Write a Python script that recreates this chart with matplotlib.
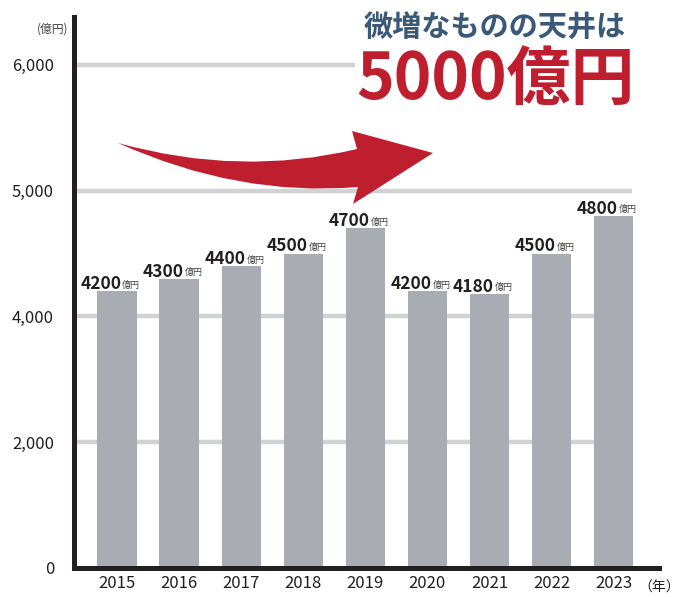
import numpy as np
import matplotlib.pyplot as plt
from matplotlib.path import Path
from matplotlib.patches import PathPatch

years = ['2015', '2016', '2017', '2018', '2019', '2020', '2021', '2022', '2023']
sales = [4200, 4300, 4400, 4500, 4700, 4200, 4180, 4500, 4800]
yticks = [0, 2000, 4000, 5000, 6000]
ytick_labels = ['0', '2,000', '4,000', '5,000', '6,000']

JP = ['Noto Sans CJK JP', 'DejaVu Sans']

# the axis is not linear: every tick gets the same spacing
knots = [0, 2000, 4000, 5000, 6000, 7000]
steps = [0, 1, 2, 3, 4, 5]


def forward(v):
    return np.interp(v, knots, steps)


def inverse(v):
    return np.interp(v, steps, knots)


W, H = 689, 597
fig = plt.figure(figsize=(W / 100, H / 100), dpi=100)
ax = fig.add_axes([73.5 / W, 1 - 568 / H, (659 - 73.5) / W, (568 - 17) / H])
ax.set_yscale('function', functions=(forward, inverse))

x = np.arange(len(years))
ax.set_xlim(-0.70, 8.73)
ax.set_ylim(0, 6380)

ax.hlines(yticks[1:], -0.70, 8.3, color='#d1d2d4', lw=3.2, zorder=1)
ax.bar(x, sales, width=0.63, color='#a9acb3', zorder=2)

for xi, v in zip(x, sales):
    ax.annotate(str(v), (xi, v), xytext=(3, 1.5), textcoords='offset points',
                ha='right', va='baseline', fontsize=12.5, fontweight='bold',
                family=JP, color='#231f20', zorder=3)
    ax.annotate('億円', (xi, v), xytext=(3.8, 2.5), textcoords='offset points',
                ha='left', va='baseline', fontsize=6.5, family=JP,
                color='#444444', zorder=3)

for s in ['top', 'right']:
    ax.spines[s].set_visible(False)
for s in ['left', 'bottom']:
    ax.spines[s].set_linewidth(3.6)
    ax.spines[s].set_color('#231f20')
    ax.spines[s].set_zorder(4)

ax.set_yticks(yticks)
ax.set_yticklabels(ytick_labels, family=JP, fontsize=12, color='#231f20')
ax.yaxis.set_minor_locator(plt.NullLocator())
ax.set_xticks(x)
ax.set_xticklabels(years, family=JP, fontsize=12, color='#231f20')
ax.tick_params(axis='y', length=0, pad=14)
ax.tick_params(axis='x', length=0, pad=5)

fig.text(68 / W, 1 - 29 / H, '(億円)', ha='right', va='center', fontsize=8.5,
         family=JP, color='#444444')
fig.text(638 / W, 1 - 588 / H, '（年）', ha='left', va='center', fontsize=10,
         family=JP, color='#231f20')

# curved red arrow
pts = [(118, 143), (240, 177), (357, 149), (352, 131), (433, 153),
       (353, 204), (358, 187), (238, 197), (118, 143), (118, 143)]
codes = [Path.MOVETO, Path.CURVE3, Path.CURVE3, Path.LINETO, Path.LINETO,
         Path.LINETO, Path.LINETO, Path.CURVE3, Path.CURVE3, Path.CLOSEPOLY]
verts = [(px / W, 1 - py / H) for px, py in pts]
fig.patches.append(PathPatch(Path(verts, codes), transform=fig.transFigure,
                             facecolor='#be1e2d', edgecolor='none', zorder=5))

fig.text(495 / W, 1 - 28 / H, '微増なものの天井は', ha='center', va='center',
         fontsize=21, fontweight='bold', family=JP, color='#3a5878')
fig.text(495 / W, 1 - 80 / H, '5000億円', ha='center', va='center',
         fontsize=46, fontweight='bold', family=JP, color='#be1e2d',
         bbox=dict(facecolor='white', edgecolor='none', pad=1))

fig.savefig('out.png', dpi=100)
